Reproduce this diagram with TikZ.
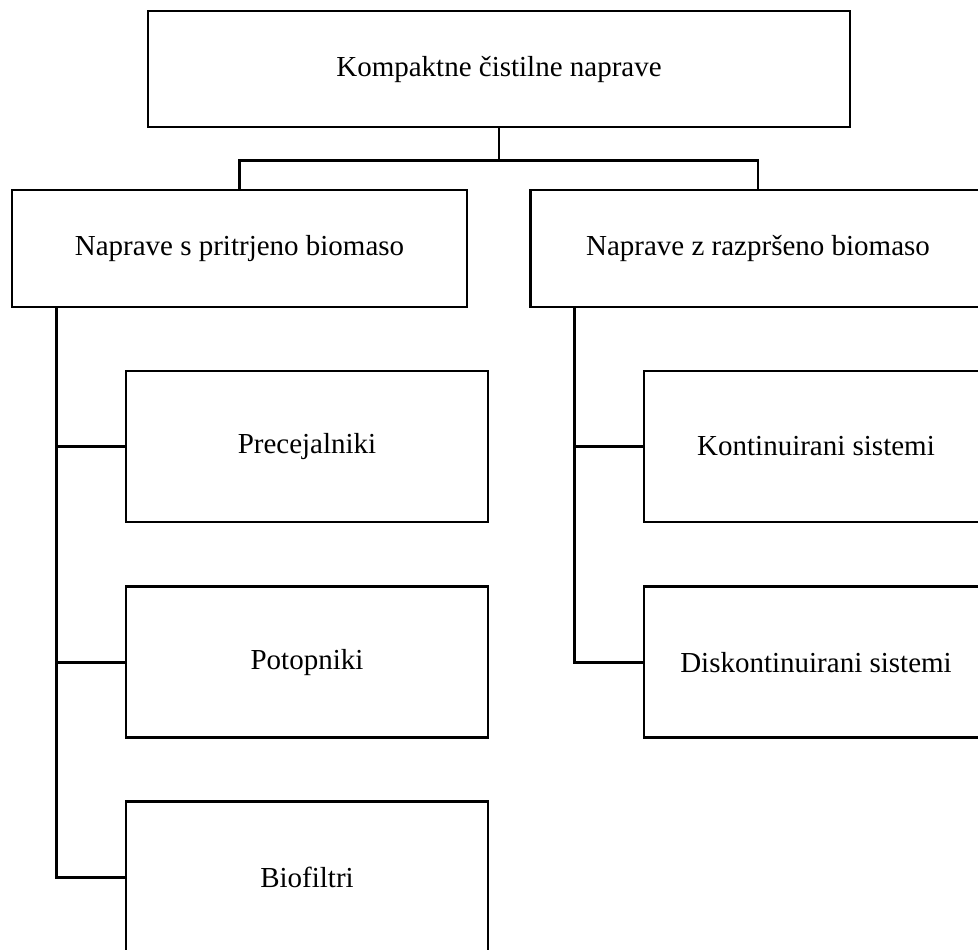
\documentclass[tikz,border=0pt]{standalone}
\usepackage{fontspec}
\setmainfont{Liberation Serif}
\usetikzlibrary{positioning,calc}

\begin{document}
\begin{tikzpicture}[
  box/.style={draw,line width=1.6pt,fill=white,align=center,
    font=\fontsize{16.5}{19}\selectfont,inner sep=0pt},
  head/.style={box,minimum width=14.04cm,minimum height=2.32cm},
  group/.style={box,minimum width=9.1cm,minimum height=2.34cm},
  leaf/.style={box,minimum width=7.24cm,minimum height=3.02cm},
  rleaf/.style={box,minimum width=6.88cm,minimum height=3.02cm},
  conn/.style={line width=1.6pt},
]
  \useasboundingbox (0,0) rectangle (19.56,-18.98);
  \clip (0,0) rectangle (19.56,-18.98);

  \node[head] (top) at (9.98,-1.38) {Kompaktne čistilne naprave};
  \node[group] (attached) at (4.79,-4.97) {Naprave s pritrjeno biomaso};
  \node[group] (suspended) at (15.16,-4.97) {Naprave z razpršeno biomaso};

  \node[leaf] (prec) at (6.14,-8.93) {Precejalniki};
  \node[leaf,below=1.24cm of prec] (potop) {Potopniki};
  \node[leaf,below=1.22cm of potop] (bio) {Biofiltri};

  \node[rleaf] (cont) at (16.32,-8.93) {Kontinuirani sistemi};
  \node[rleaf,below=1.24cm of cont] (disc) {Diskontinuirani sistemi};

  % top fork
  \draw[conn] (top.south) -- ++(0,-0.64) coordinate (fork);
  \draw[conn] (fork) -| (attached.north);
  \draw[conn] (fork) -| (suspended.north);

  % left trunk
  \coordinate (ltr) at ([xshift=0.92cm]attached.south west);
  \draw[conn] (ltr) |- (bio.west);
  \foreach \n in {prec,potop}
    \draw[conn] (\n.west) -- (\n.west -| ltr);

  % right trunk
  \coordinate (rtr) at ([xshift=0.9cm]suspended.south west);
  \draw[conn] (rtr) |- (disc.west);
  \draw[conn] (cont.west) -- (cont.west -| rtr);
\end{tikzpicture}
\end{document}
